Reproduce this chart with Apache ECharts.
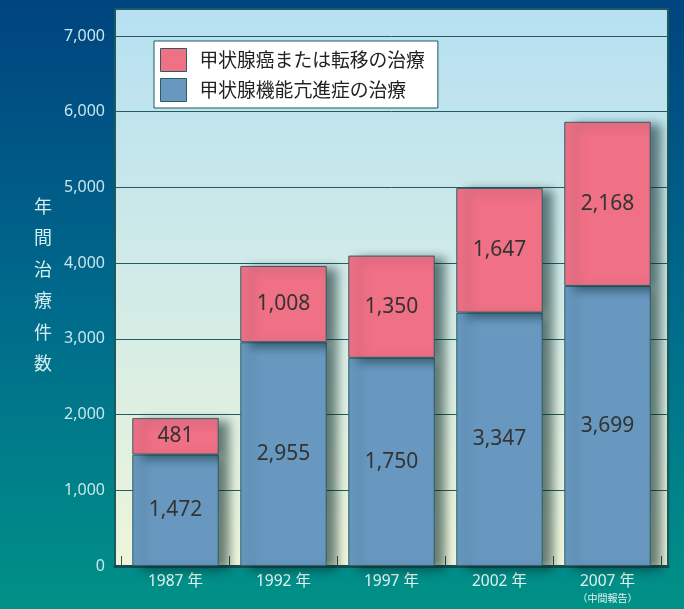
<!DOCTYPE html>
<html>
<head>
<meta charset="utf-8">
<script src="https://cdn.jsdelivr.net/npm/echarts@6/dist/echarts.min.js"></script>
<style>
html,body{margin:0;padding:0;}
#c{width:684px;height:609px;}
</style>
</head>
<body>
<div id="c"></div>
<script>
var categories = ['1987 年', '1992 年', '1997 年', '2002 年', '2007 年'];
var seriesNames = ['甲状腺癌または転移の治療', '甲状腺機能亢進症の治療'];
var hyperValues = [1472, 2955, 2750, 3347, 3699];
var hyperLabels = ['1,472', '2,955', '1,750', '3,347', '3,699'];
var cancerValues = [481, 1008, 1350, 1647, 2168];
var cancerLabels = ['481', '1,008', '1,350', '1,647', '2,168'];
var yTicks = [0, 1000, 2000, 3000, 4000, 5000, 6000, 7000];
var yTitle = '年間治療件数';
var noteText = '（中間報告）';

var FONT = '"Noto Sans CJK JP", "Noto Sans", sans-serif';
var NUMFONT = '"Noto Sans", "Noto Sans CJK JP", sans-serif';
var chart = echarts.init(document.getElementById('c'), null, {renderer: 'canvas'});
var yMax = 7357;
var barShadow = {shadowColor: 'rgba(10,40,40,0.6)', shadowBlur: 10, shadowOffsetX: 10, shadowOffsetY: 3};

var option = {
  backgroundColor: {
    type: 'linear', x: 0, y: 0, x2: 0, y2: 1,
    colorStops: [{offset: 0, color: '#00447f'}, {offset: 0.5, color: '#006a8c'}, {offset: 1, color: '#009187'}]
  },
  textStyle: {fontFamily: FONT},
  grid: [
    {left: 115, right: 16, top: 9, bottom: 43, show: true,
     backgroundColor: {type: 'linear', x: 0, y: 0, x2: 0, y2: 1,
       colorStops: [{offset: 0, color: '#b6e0f2'}, {offset: 0.45, color: '#cfeae8'}, {offset: 1, color: '#eef5da'}]},
     borderColor: '#1d5a5c', borderWidth: 2},
    {left: 121.5, right: 22.5, top: 9, bottom: 43}
  ],
  xAxis: [
    {gridIndex: 0, type: 'category', data: categories, axisLabel: {show: false}, axisTick: {show: false},
     axisLine: {lineStyle: {color: '#174b50', width: 3}}},
    {gridIndex: 1, type: 'category', data: categories,
     axisLine: {show: false},
     axisTick: {show: true, inside: true, length: 10, lineStyle: {color: '#2a5555', width: 1}},
     axisLabel: {
       interval: 0, margin: 6, color: '#e8f4f2', fontSize: 15.5, fontFamily: NUMFONT, lineHeight: 19,
       formatter: function (v, i) { return i === categories.length - 1 ? v + '\n{s|' + noteText + '}' : v; },
       rich: {s: {fontSize: 10, color: '#e8f4f2', lineHeight: 15, fontFamily: FONT}}
     }}
  ],
  yAxis: [
    {gridIndex: 0, type: 'value', min: 0, max: yMax, interval: 1000,
     axisLine: {show: false}, axisTick: {show: false},
     splitLine: {lineStyle: {color: '#1f5e60', width: 1}},
     axisLabel: {showMaxLabel: false, color: '#c8e6ee', fontSize: 16, margin: 10, fontFamily: NUMFONT,
       formatter: function (v) { return yTicks.indexOf(v) >= 0 ? v.toLocaleString('en-US') : ''; }}},
    {gridIndex: 1, type: 'value', min: 0, max: yMax, interval: 1000, show: false, splitLine: {show: false}}
  ],
  legend: {
    orient: 'vertical', left: 154, top: 41, icon: 'rect',
    data: [seriesNames[0], seriesNames[1]],
    itemWidth: 26, itemHeight: 23, itemGap: 6,
    padding: [7, 13, 6, 6],
    backgroundColor: '#ffffff', borderColor: '#1d5a5c', borderWidth: 1,
    itemStyle: {shadowBlur: 0, shadowOffsetX: 0, shadowOffsetY: 0, borderColor: '#2a5e62', borderWidth: 1},
    textStyle: {fontSize: 18.8, color: '#222', fontFamily: FONT, padding: [0, 0, 0, 8]}
  },
  series: [
    {name: seriesNames[1], type: 'bar', stack: 's', xAxisIndex: 1, yAxisIndex: 1, barWidth: '80%',
     data: hyperValues,
     itemStyle: Object.assign({color: '#6898c0', borderColor: '#2c5f66', borderWidth: 1}, barShadow),
     label: {show: true, position: 'inside', fontSize: 21, color: '#333', fontFamily: NUMFONT,
       formatter: function (p) { return hyperLabels[p.dataIndex]; }}},
    {name: seriesNames[0], type: 'bar', stack: 's', xAxisIndex: 1, yAxisIndex: 1, barWidth: '80%',
     data: cancerValues,
     itemStyle: Object.assign({color: '#f07086', borderColor: '#2c5f66', borderWidth: 1}, barShadow),
     label: {show: true, position: 'inside', fontSize: 21, color: '#333', fontFamily: NUMFONT,
       formatter: function (p) { return cancerLabels[p.dataIndex]; }}}
  ],
  graphic: [
    {type: 'text', left: 34, top: 190,
     style: {text: yTitle.split('').join('\n'), fontSize: 18, lineHeight: 31.5, fill: '#d4eef0',
       fontFamily: FONT, align: 'center'}}
  ]
};
chart.setOption(option);
</script>
</body>
</html>
